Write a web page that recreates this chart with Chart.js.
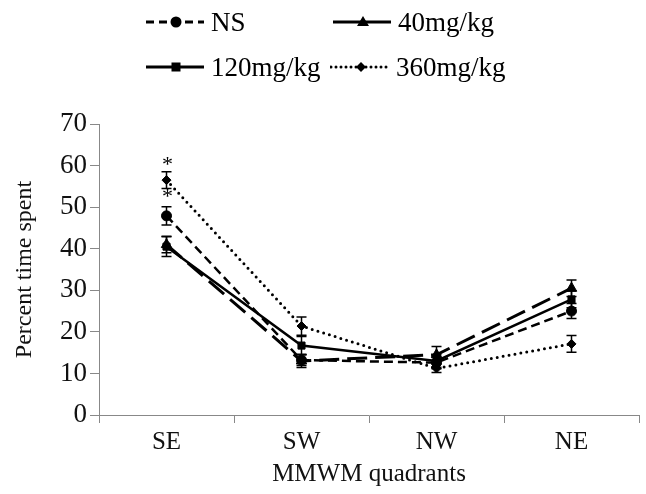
<!DOCTYPE html>
<html>
<head>
<meta charset="utf-8">
<script src="https://cdn.jsdelivr.net/npm/chart.js@4"></script>
<style>
  body { margin: 0; background: #fff; }
  #wrap { position: relative; width: 646px; height: 494px; }
  #legend .item { position: absolute; display: flex; align-items: center; height: 30px;
    font-family: "Liberation Serif", "Times New Roman", serif; font-size: 27px; color: #000; }
  #legend svg { margin-right: 6px; }
</style>
</head>
<body>
<div id="wrap">
  <canvas id="chart" width="646" height="494"></canvas>
  <div id="legend"></div>
</div>
<script>
const quadrants = ["SE", "SW", "NW", "NE"];
const seriesNames = ["NS", "40mg/kg", "120mg/kg", "360mg/kg"];

const nsValues = [47.9, 13.2, 12.6, 25.0];
const nsErrors = [2.2, 1.3, 1.5, 1.8];
const mg40Values = [41.0, 13.0, 14.5, 30.5];
const mg40Errors = [2.0, 1.6, 2.0, 2.0];
const mg120Values = [40.5, 16.7, 13.0, 27.8];
const mg120Errors = [2.4, 2.2, 1.5, 2.0];
const mg360Values = [56.5, 21.4, 11.2, 17.1];
const mg360Errors = [2.0, 2.2, 1.0, 2.0];

const yTicks = [0, 10, 20, 30, 40, 50, 60, 70];

// significance marks: category + height
const starQuadrants = ["SE", "SE"];
const starValues = [61.3, 53.6];

const serif = "'Liberation Serif', 'Times New Roman', serif";

function makeSet(i, data, errors, pointStyle, radius, dash, width, cap) {
  return {
    label: seriesNames[i],
    data: data,
    errors: errors,
    borderColor: "#000",
    backgroundColor: "#000",
    borderWidth: width,
    borderDash: dash,
    borderCapStyle: cap,
    pointStyle: pointStyle,
    pointRadius: radius,
    pointBorderWidth: 1,
    tension: 0,
    fill: false
  };
}

const errorBars = {
  id: "errorBars",
  afterDatasetsDraw(chart) {
    const ctx = chart.ctx;
    const y = chart.scales.y;
    ctx.save();
    ctx.strokeStyle = "#000";
    ctx.lineWidth = 1.5;
    ctx.setLineDash([]);
    chart.data.datasets.forEach((ds, i) => {
      const meta = chart.getDatasetMeta(i);
      meta.data.forEach((pt, j) => {
        const top = y.getPixelForValue(ds.data[j] + ds.errors[j]);
        const bot = y.getPixelForValue(ds.data[j] - ds.errors[j]);
        ctx.beginPath();
        ctx.moveTo(pt.x, top); ctx.lineTo(pt.x, bot);
        ctx.moveTo(pt.x - 5, top); ctx.lineTo(pt.x + 5, top);
        ctx.moveTo(pt.x - 5, bot); ctx.lineTo(pt.x + 5, bot);
        ctx.stroke();
      });
    });
    // asterisks
    ctx.fillStyle = "#000";
    ctx.font = "22px " + serif;
    ctx.textAlign = "center";
    ctx.textBaseline = "middle";
    starQuadrants.forEach((q, k) => {
      const px = chart.scales.x.getPixelForValue(quadrants.indexOf(q));
      const py = y.getPixelForValue(starValues[k]);
      ctx.fillText("*", px + 1, py + 5);
    });
    ctx.restore();
  }
};

new Chart(document.getElementById("chart"), {
  type: "line",
  data: {
    labels: quadrants,
    datasets: [
      makeSet(0, nsValues, nsErrors, "circle", 5, [9, 5], 2.5, "butt"),
      makeSet(1, mg40Values, mg40Errors, "triangle", 6, [20, 8], 3, "butt"),
      makeSet(2, mg120Values, mg120Errors, "rect", 5, [], 2.5, "butt"),
      makeSet(3, mg360Values, mg360Errors, "rectRot", 4.5, [0, 6], 3, "round")
    ]
  },
  options: {
    responsive: false,
    animation: false,
    layout: { padding: { top: 124, right: 1, left: 0, bottom: 0 } },
    plugins: { legend: { display: false }, tooltip: { enabled: false } },
    scales: {
      x: {
        offset: true,
        afterFit(scale) { scale.height = 79; },
        grid: { offset: true, drawOnChartArea: false, tickLength: 8, color: "#888" },
        border: { color: "#888" },
        ticks: { color: "#111", padding: 4, font: { family: serif, size: 25 } },
        title: { display: true, text: "MMWM quadrants", color: "#111",
          padding: { top: 2, bottom: 5 }, font: { family: serif, size: 25 } }
      },
      y: {
        min: 0,
        max: 70,
        afterFit(scale) { scale.width = 99; },
        afterBuildTicks(scale) { scale.ticks = yTicks.map(v => ({ value: v })); },
        grid: { drawOnChartArea: false, tickLength: 9, color: "#888" },
        border: { color: "#888" },
        ticks: { color: "#111", padding: 3, font: { family: serif, size: 27 } },
        title: { display: true, text: "Percent time spent", color: "#111",
          padding: { top: 10, bottom: 0 }, font: { family: serif, size: 24 } }
      }
    }
  },
  plugins: [errorBars]
});

// legend as laid out in the figure: 2 x 2
const legendSamples = [
  { dash: "8 5", cap: "butt", marker: "circle" },
  { dash: "", cap: "butt", marker: "triangle" },
  { dash: "", cap: "butt", marker: "square" },
  { dash: "0 5", cap: "round", marker: "diamond" }
];
const legendPos = [[145, 7], [332, 7], [145, 52], [330, 52]];
function markerSvg(m) {
  if (m === "circle") return '<circle cx="31" cy="10" r="5.5" fill="#000"/>';
  if (m === "triangle") return '<polygon points="31,4 37,14 25,14" fill="#000"/>';
  if (m === "square") return '<rect x="26.5" y="5.5" width="9" height="9" fill="#000"/>';
  return '<polygon points="31,5 36,10 31,15 26,10" fill="#000"/>';
}
const legendEl = document.getElementById("legend");
seriesNames.forEach((name, i) => {
  const s = legendSamples[i];
  const div = document.createElement("div");
  div.className = "item";
  div.style.left = legendPos[i][0] + "px";
  div.style.top = legendPos[i][1] + "px";
  div.innerHTML = '<svg width="60" height="20"><line x1="1" y1="10" x2="59" y2="10" stroke="#000" stroke-width="3"' +
    (s.dash ? ' stroke-dasharray="' + s.dash + '"' : '') + ' stroke-linecap="' + s.cap + '"/>' +
    markerSvg(s.marker) + '</svg><span>' + name + '</span>';
  legendEl.appendChild(div);
});
</script>
</body>
</html>
